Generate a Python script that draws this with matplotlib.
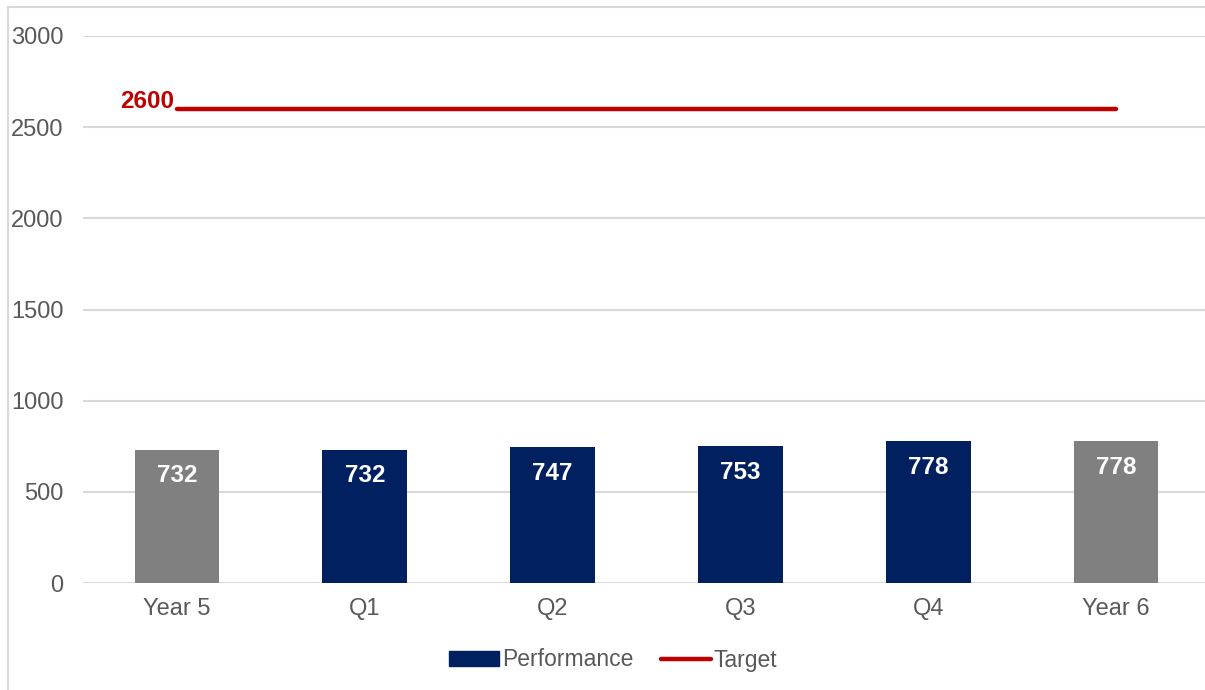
import matplotlib
matplotlib.use("Agg")
import matplotlib.pyplot as plt
from matplotlib.lines import Line2D
from matplotlib.patches import Patch

# data
categories = ["Year 5", "Q1", "Q2", "Q3", "Q4", "Year 6"]
performance = [732, 732, 747, 753, 778, 778]
target = [2600, 2600, 2600, 2600, 2600, 2600]
is_year = [True, False, False, False, False, True]
y_ticks = [0, 500, 1000, 1500, 2000, 2500, 3000]

NAVY = "#002060"
GREY = "#808080"
RED = "#C00000"
GRID = "#D9D9D9"
TEXT = "#595959"

plt.rcParams["font.family"] = ["Liberation Sans", "DejaVu Sans"]

fig = plt.figure(figsize=(12.05, 6.9), dpi=100)
ax = fig.add_axes([83 / 1205, 107 / 690, 1127 / 1205, 547 / 690])

x = list(range(len(categories)))
colors = [GREY if y else NAVY for y in is_year]
ax.bar(x, performance, width=0.45, color=colors, zorder=3)

for xi, v in zip(x, performance):
    ax.annotate(f"{v}", (xi, v), xytext=(0, -19), textcoords="offset points",
                ha="center", va="center", color="white", fontsize=17.5,
                fontweight="bold", zorder=4)

ax.plot(x, target, color=RED, lw=3.2, solid_capstyle="round", zorder=4)
ax.annotate(f"{target[0]}", (x[0], target[0]), xytext=(-2, 5),
            textcoords="offset points", ha="right", va="center",
            color=RED, fontsize=17.5, fontweight="bold")

ax.set_xlim(-0.5, len(categories) - 0.5)
ax.set_ylim(0, 3000)
ax.set_yticks(y_ticks)
ax.set_xticks(x)
ax.set_xticklabels(categories)
ax.grid(axis="y", color=GRID, lw=1.5, zorder=0)
ax.set_axisbelow(True)
for s in ax.spines.values():
    s.set_visible(False)
ax.tick_params(axis="both", length=0, colors=TEXT, labelsize=17)
ax.tick_params(axis="x", pad=11)
ax.tick_params(axis="y", pad=14)

handles = [
    Patch(facecolor=NAVY, edgecolor=NAVY),
    Line2D([0], [0], color=RED, lw=3.2, solid_capstyle="round"),
]
fig.legend(handles, ["Performance", "Target"], loc="center",
           bbox_to_anchor=(613 / 1205, 1 - 660 / 690), ncol=2, frameon=False,
           fontsize=16.5, labelcolor=TEXT, handlelength=2.2, handletextpad=0.1,
           columnspacing=1.2, handleheight=0.6)

# chart border (partly cropped at right/bottom)
fig.add_artist(Line2D([8 / 1205, 8 / 1205], [0, 1 - 7 / 690], color=GRID, lw=1.5,
                      transform=fig.transFigure))
fig.add_artist(Line2D([8 / 1205, 1], [1 - 7 / 690, 1 - 7 / 690], color=GRID, lw=1.5,
                      transform=fig.transFigure))

fig.savefig("out.png", dpi=100)
